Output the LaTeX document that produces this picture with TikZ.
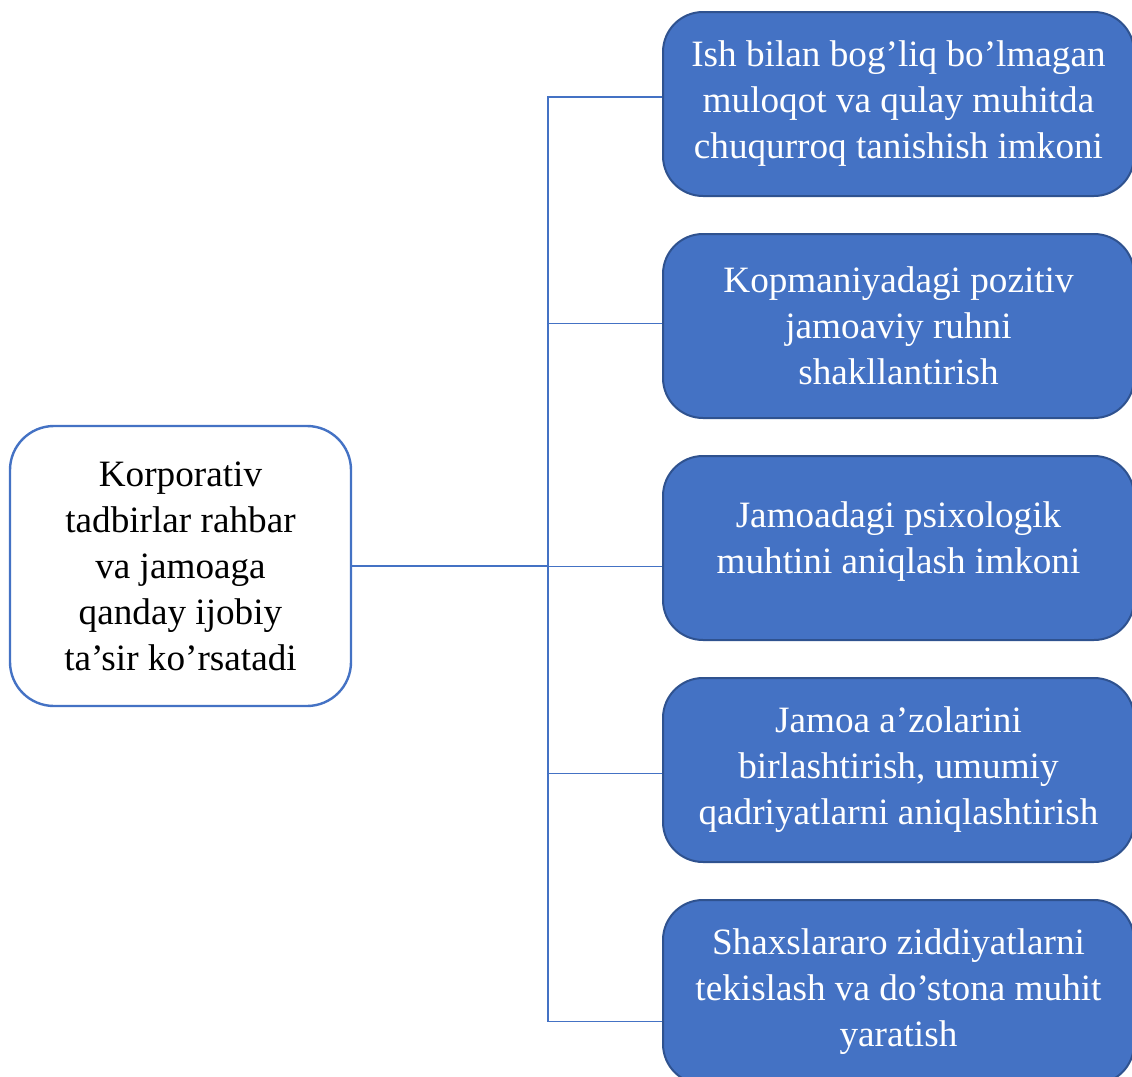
\documentclass[tikz,border=0pt]{standalone}
\usepackage{fontspec}
\setmainfont{Liberation Serif}
\usetikzlibrary{positioning}
\definecolor{WD-blue}{HTML}{4472C4}
\definecolor{WD-dblue}{HTML}{2F528F}
\begin{document}
\begin{tikzpicture}[x=0.5pt,y=-0.5pt]
  \fontsize{18.6}{23}\selectfont
  \useasboundingbox (0,0) rectangle (1132,1077);
  \clip (0,0) rectangle (1132,1077);
  \tikzset{
    leadbox/.style={fill=white,draw=WD-blue,rounded corners=22pt,align=center,minimum width=170.5pt,minimum height=140pt,line width=1.2pt,inner sep=0pt},
    itembox/.style={fill=WD-blue,draw=WD-dblue,rounded corners=20pt,align=center,text=white,minimum width=235.5pt,minimum height=92pt,line width=1pt,inner sep=0pt},
    link/.style={draw=WD-blue,line width=0.75pt}
  }
  \node[leadbox] (Lead) at (180.5, 566) {Korporativ\\tadbirlar rahbar\\va jamoaga\\qanday ijobiy\\ta’sir ko’rsatadi};
  \node[itembox] (Chat) at (898.5, 104) {Ish bilan bog’liq bo’lmagan\\muloqot va qulay muhitda\\chuqurroq tanishish imkoni};
  \node[itembox,below=18pt of Chat] (Spirit) {Kopmaniyadagi pozitiv\\jamoaviy ruhni\\shakllantirish};
  \node[itembox,below=18pt of Spirit] (Mood) {Jamoadagi psixologik\\muhtini aniqlash imkoni\\[-13pt]};
  \node[itembox,below=18pt of Mood] (Unite) {Jamoa a’zolarini\\birlashtirish, umumiy\\qadriyatlarni aniqlashtirish};
  \node[itembox,below=18pt of Unite] (Peace) {Shaxslararo ziddiyatlarni\\tekislash va do’stona muhit\\yaratish};

  \coordinate (Hub) at (548, 566);
  \draw[link] (Lead.east) -- (Hub);
  \foreach \b/\dy in {Chat/3.5pt, Spirit/1.25pt, Mood/-9.25pt, Unite/-1.75pt, Peace/-14.75pt}
    \draw[link] (Hub) |- ([yshift=\dy]\b.west);
\end{tikzpicture}
\end{document}
